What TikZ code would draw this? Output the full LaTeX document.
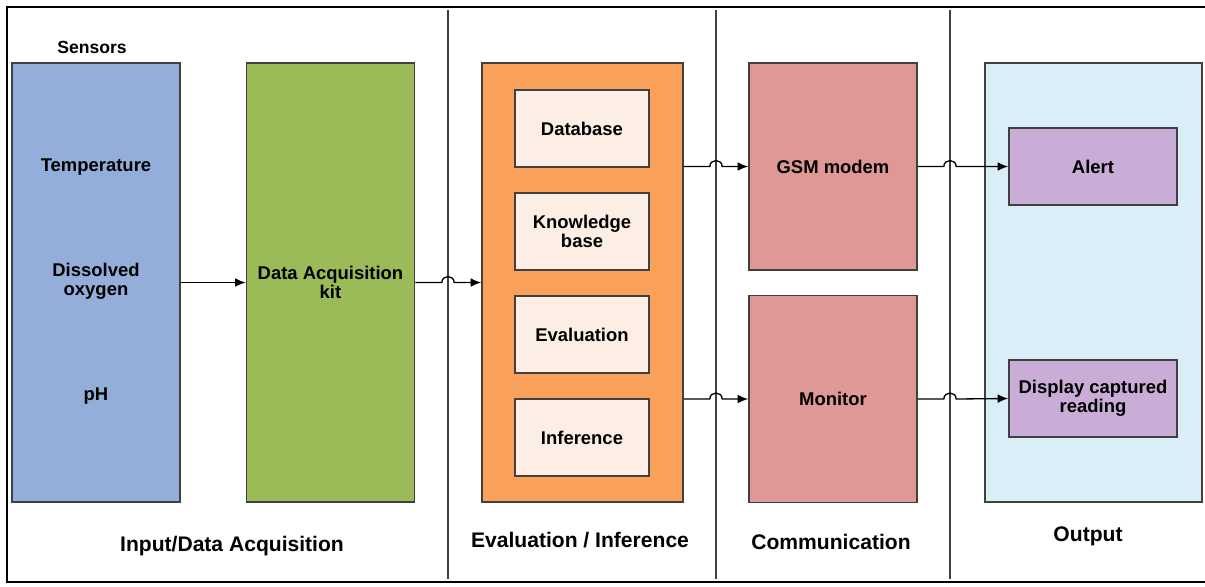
\documentclass[tikz,border=0pt]{standalone}
\usepackage{fontspec}
\setmainfont{Liberation Sans}
\usetikzlibrary{positioning,arrows,arrows.meta}

\definecolor{sensorblue}{HTML}{93AFD9}
\definecolor{kitgreen}{HTML}{9BBB59}
\definecolor{evalorange}{HTML}{F9A05A}
\definecolor{evalinner}{HTML}{FDEEE5}
\definecolor{commpink}{HTML}{DF9896}
\definecolor{outblue}{HTML}{DAEEF8}
\definecolor{outpurple}{HTML}{C9ADD6}
\definecolor{boxline}{HTML}{404040}

\tikzstyle{block} = [rectangle, draw=boxline, line width=1pt, align=center, font=\fontsize{10.5}{11}\selectfont\bfseries]
\tikzstyle{tallbox} = [block, minimum width=3.36cm, minimum height=8.78cm]
\tikzstyle{halfbox} = [block, minimum width=3.36cm, minimum height=4.14cm, fill=commpink]
\tikzstyle{innerbox} = [block, minimum width=2.68cm, minimum height=1.54cm, fill=evalinner]
\tikzstyle{outbox} = [block, minimum width=3.36cm, minimum height=1.54cm, fill=outpurple]
\tikzstyle{reading} = [align=center, font=\fontsize{10.5}{11}\selectfont\bfseries]
\tikzstyle{caption} = [font=\fontsize{12}{14}\selectfont\bfseries]
\tikzstyle{divider} = [draw=black!75, line width=0.6pt]
\tikzstyle{arrow} = [line width=0.75pt,->,>={Latex[length=6pt,width=5pt]}]

\begin{document}
\begin{tikzpicture}[x=0.02cm, y=-0.02cm, node distance=2.06cm]
\useasboundingbox (0,0) rectangle (1205,586);

% frame and column dividers
\draw[line width=1.2pt] (1205,7) -- (7,7) -- (7,582) -- (1205,582);
\coordinate (sepa) at (448,10);
\coordinate (sepb) at (716,10);
\coordinate (sepc) at (950,10);
\draw[divider] (448,10) -- (448,579);
\draw[divider] (716,10) -- (716,579);
\draw[divider] (950,10) -- (950,579);

% input / data acquisition
\node (sensors)[tallbox, fill=sensorblue] at (96,282.5) {};
\node (sensorstitle)[reading, font=\fontsize{10}{11}\selectfont\bfseries] at (92,47) {Sensors};
\node (temp)[reading] at (96,167) {Temperature};
\node (oxygen)[reading] at (96,281) {Dissolved\\oxygen};
\node (ph)[reading] at (96,396) {pH};
\node (daq)[tallbox, fill=kitgreen] at (330.5,282.5) {Data Acquisition\\kit};

% evaluation / inference
\node (eval)[block, minimum width=4.02cm, minimum height=8.78cm, fill=evalorange] at (582.5,282.5) {};
\node (database)[innerbox] at (582,128.5) {Database};
\node (knowledge)[innerbox, below of=database] {Knowledge\\base};
\node (evaluation)[innerbox, below of=knowledge] {Evaluation};
\node (inference)[innerbox, below of=evaluation] {Inference};

% communication
\node (gsm)[halfbox] at (833,166.5) {GSM modem};
\node (monitor)[halfbox] at (833,399) {Monitor};

% output
\node (output)[block, minimum width=4.34cm, minimum height=8.78cm, fill=outblue] at (1093.5,282.5) {};
\node (alert)[outbox] at (1093,166.5) {Alert};
\node (display)[outbox] at (1093,398.5) {Display captured\\reading};

% captions
\node (capinput)[caption] at (232,546) {Input/Data Acquisition};
\node (capeval)[caption] at (580,540) {Evaluation / Inference};
\node (capcomm)[caption] at (831,542) {Communication};
\node (capout)[caption] at (1088,536) {Output};

% connectors
\draw[arrow] (sensors) -- (daq);
\draw[arrow] (daq.east) -- ([xshift=-3.5pt]sepa |- daq.east) .. controls +(0pt,4.5pt) and +(0pt,4.5pt) .. ([xshift=3.5pt]sepa |- daq.east) -- (eval.west);
\draw[arrow] (eval.east |- gsm.west) -- ([xshift=-3.5pt]sepb |- gsm.west) .. controls +(0pt,4.5pt) and +(0pt,4.5pt) .. ([xshift=3.5pt]sepb |- gsm.west) -- (gsm.west);
\draw[arrow] (eval.east |- monitor.west) -- ([xshift=-3.5pt]sepb |- monitor.west) .. controls +(0pt,4.5pt) and +(0pt,4.5pt) .. ([xshift=3.5pt]sepb |- monitor.west) -- (monitor.west);
\draw[arrow] (gsm.east) -- ([xshift=-3.5pt]sepc |- gsm.east) .. controls +(0pt,4.5pt) and +(0pt,4.5pt) .. ([xshift=3.5pt]sepc |- gsm.east) -- (alert.west);
\draw[arrow] (monitor.east) -- ([xshift=-3.5pt]sepc |- monitor.east) .. controls +(0pt,4.5pt) and +(0pt,4.5pt) .. ([xshift=3.5pt]sepc |- monitor.east) -- (display.west);
\end{tikzpicture}
\end{document}
